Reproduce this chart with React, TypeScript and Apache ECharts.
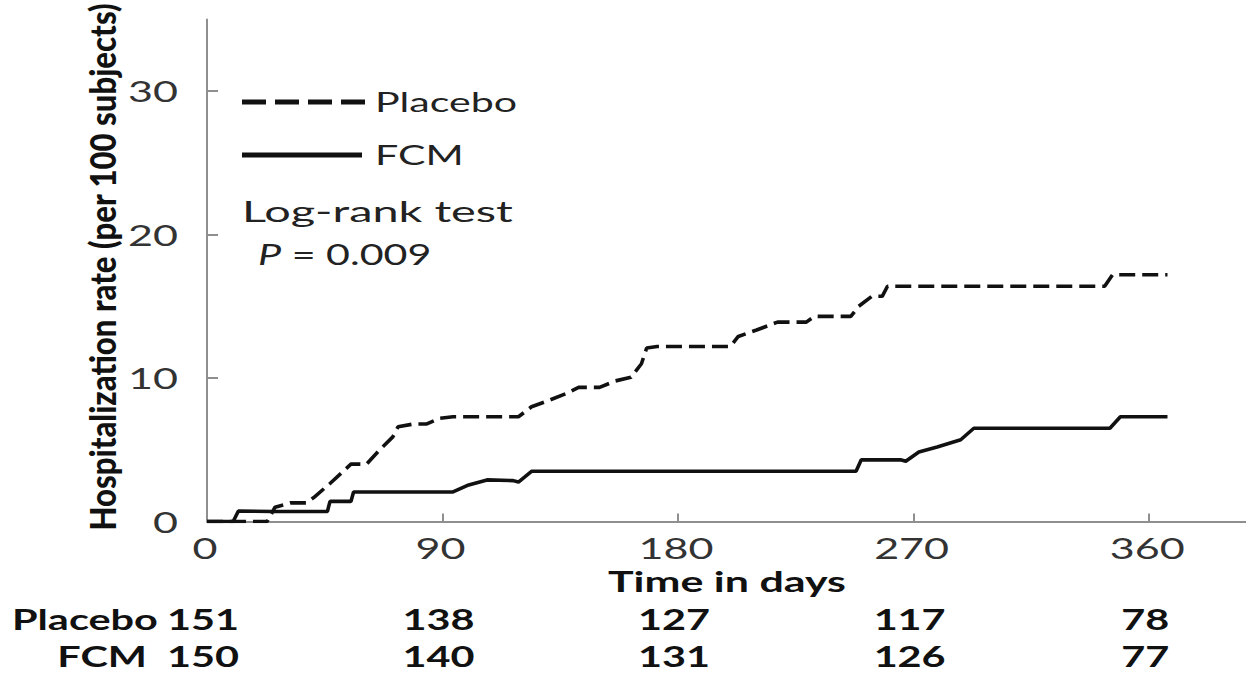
import React, { useEffect, useRef } from "react";
import * as echarts from "echarts";

// Cumulative hospitalization rate (per 100 subjects) by day of follow-up
const placeboCurve: [number, number][] = [
  [0, 0], [23, 0], [26, 1.0], [32, 1.3], [38, 1.3], [41, 1.7], [47, 2.65], [55, 4.0], [61, 4.0],
  [66, 5.0], [71, 5.9], [73, 6.6], [79, 6.8], [84, 6.8], [89, 7.2], [94, 7.3], [119, 7.3],
  [124, 8.0], [130, 8.4], [137, 8.9], [142, 9.35], [150, 9.35], [156, 9.8], [162, 10.05],
  [166, 11.0], [168, 12.1], [172, 12.2], [200, 12.2], [203, 12.9], [210, 13.35], [218, 13.9],
  [229, 13.9], [232, 14.3], [246, 14.3], [249, 15.0], [254, 15.7], [258, 15.7], [260, 16.4],
  [343, 16.4], [346, 17.2], [367, 17.2],
];
const fcmCurve: [number, number][] = [
  [0, 0], [10, 0], [12, 0.73], [25, 0.7], [46, 0.7], [47, 1.4], [55, 1.4], [56, 2.06], [94, 2.06],
  [100, 2.55], [107, 2.9], [117, 2.85], [119, 2.75], [124, 3.5], [248, 3.5], [250, 4.3],
  [265, 4.3], [267, 4.2], [272, 4.85], [279, 5.2], [288, 5.7], [293, 6.5], [345, 6.5],
  [349, 7.3], [367, 7.3],
];

const xTicks = [0, 90, 180, 270, 360];
const yTicks = [0, 10, 20, 30];
const seriesNames = ["Placebo", "FCM"];
const placeboAtRisk = [151, 138, 127, 117, 78];
const fcmAtRisk = [150, 140, 131, 126, 77];
const xTitle = "Time in days";
const yTitle = "Hospitalization rate (per 100 subjects)";
const testLabel = "Log-rank test";
const pValue = "0.009";

const FONT = "Lato, 'Open Sans', sans-serif";
const AXIS_GREY = "#8f8f8f";
const INK = "#111";

const measureCtx = document.createElement("canvas").getContext("2d")!;
function textWidth(s: string, size: number, weight = "normal", style = "normal") {
  measureCtx.font = `${style} ${weight} ${size}px Lato`;
  return measureCtx.measureText(s).width;
}

function textEl(
  text: string,
  x: number,
  y: number,
  size: number,
  scaleX: number,
  opts: { weight?: string; align?: string; fill?: string; rotation?: number; scaleY?: number; rich?: any } = {}
) {
  return {
    type: "text",
    x,
    y,
    scaleX,
    scaleY: opts.scaleY ?? 1,
    rotation: opts.rotation ?? 0,
    silent: true,
    style: {
      text,
      fontSize: size,
      fontFamily: FONT,
      fontWeight: opts.weight ?? "normal",
      fill: opts.fill ?? INK,
      align: opts.align ?? "left",
      verticalAlign: "middle",
      rich: opts.rich,
    },
  };
}

export default function App() {
  const ref = useRef<HTMLDivElement>(null);

  useEffect(() => {
    const chart = echarts.init(ref.current!, undefined, { renderer: "svg" });

    chart.setOption({
      animation: false,
      backgroundColor: "#fff",
      grid: { left: 207, top: 19.5, width: 1040, height: 502 },
      xAxis: {
        type: "value",
        min: 0,
        max: 397,
        interval: 90,
        axisLine: { show: true, lineStyle: { color: AXIS_GREY, width: 2 } },
        axisTick: { show: true, inside: true, length: 8, customValues: xTicks, lineStyle: { color: AXIS_GREY, width: 2 } },
        axisLabel: { show: false },
        splitLine: { show: false },
      },
      yAxis: {
        type: "value",
        min: 0,
        max: 35,
        interval: 10,
        axisLine: { show: true, lineStyle: { color: AXIS_GREY, width: 2 } },
        axisTick: { show: true, inside: true, length: 11, customValues: yTicks, lineStyle: { color: AXIS_GREY, width: 2 } },
        axisLabel: { show: false },
        splitLine: { show: false },
      },
      series: [
        {
          type: "line",
          name: seriesNames[0],
          data: placeboCurve,
          symbol: "none",
          lineStyle: { color: INK, width: 3.6, type: [16, 7] },
          z: 3,
        },
        {
          type: "line",
          name: seriesNames[1],
          data: fcmCurve,
          symbol: "none",
          lineStyle: { color: INK, width: 3.6 },
          z: 2,
        },
      ],
    });

    const px = (x: number, y: number) => chart.convertToPixel({ gridIndex: 0 }, [x, y]) as number[];

    const elements: any[] = [];

    // tick labels
    const tickSize = 29;
    const tickSx = 50 / textWidth("30", tickSize);
    yTicks.forEach((v) => {
      const [, py] = px(0, v);
      elements.push(textEl(String(v), 178, py, tickSize, tickSx, { align: "right", fill: "#333" }));
    });
    xTicks.forEach((v) => {
      const [pxX] = px(v, 0);
      elements.push(textEl(String(v), pxX - 2, 548, tickSize, tickSx, { align: "center", fill: "#333" }));
    });

    // axis titles
    const xtSize = 28;
    elements.push(
      textEl(xTitle, 727, 581, xtSize, 238 / textWidth(xTitle, xtSize, "bold"), { weight: "bold", align: "center" })
    );
    const ytSize = 31;
    elements.push(
      textEl(yTitle, 102, 267, ytSize, 528 / textWidth(yTitle, ytSize, "900"), {
        weight: "900",
        align: "center",
        rotation: Math.PI / 2,
        scaleY: 1.15,
      })
    );

    // legend
    elements.push({
      type: "line",
      silent: true,
      shape: { x1: 242, y1: 102, x2: 366, y2: 102 },
      style: { stroke: INK, lineWidth: 5, lineDash: [24, 9] },
    });
    elements.push({
      type: "line",
      silent: true,
      shape: { x1: 242, y1: 155, x2: 362, y2: 155 },
      style: { stroke: INK, lineWidth: 5 },
    });
    const legSize = 27;
    const legSx = 142 / textWidth(seriesNames[0], legSize);
    elements.push(textEl(seriesNames[0], 375, 102, legSize, legSx, { fill: "#222" }));
    elements.push(textEl(seriesNames[1], 375, 155, legSize, legSx, { fill: "#222" }));

    // log-rank annotation
    const annSize = 28;
    elements.push(textEl(testLabel, 242, 211, annSize, 271 / textWidth(testLabel, annSize), { fill: "#222" }));
    const pText = `P = ${pValue}`;
    elements.push(
      textEl(`{i|P} = ${pValue}`, 258, 254, annSize, 175 / textWidth(pText, annSize), {
        fill: "#222",
        rich: { i: { fontStyle: "italic", fontSize: annSize, fontFamily: FONT, fill: "#222" } },
      })
    );

    // numbers at risk
    const riskSize = 29;
    const riskSx = 72 / textWidth("151", riskSize, "bold");
    const rowSx = 146 / textWidth(seriesNames[0], riskSize, "bold");
    const rowY = [619, 656];
    elements.push(textEl(seriesNames[0], 12, rowY[0], riskSize, rowSx, { weight: "bold" }));
    elements.push(textEl(seriesNames[1], 147, rowY[1], riskSize, rowSx, { weight: "bold", align: "right" }));
    [placeboAtRisk, fcmAtRisk].forEach((row, r) => {
      row.forEach((n, i) => {
        const [pxX] = px(xTicks[i], 0);
        elements.push(textEl(String(n), pxX - 4, rowY[r], riskSize, riskSx, { weight: "bold", align: "center" }));
      });
    });

    chart.setOption({ graphic: { elements } });

    return () => chart.dispose();
  }, []);

  return (
    <div
      ref={ref}
      style={{ position: "fixed", left: 0, top: 0, width: 1246, height: 674, background: "#fff" }}
    />
  );
}
